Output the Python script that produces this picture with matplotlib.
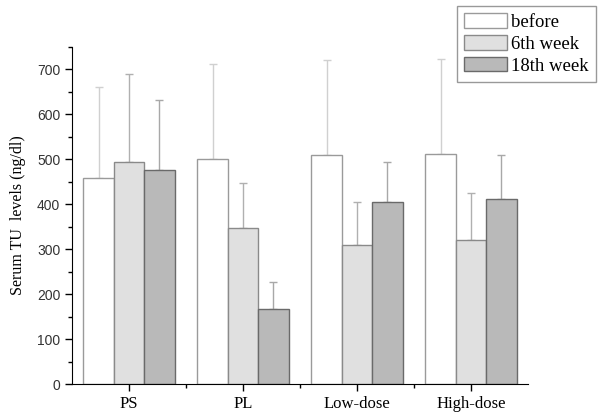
import matplotlib
matplotlib.use("Agg")
import matplotlib.pyplot as plt
import numpy as np
from matplotlib.ticker import MultipleLocator

groups = ["PS", "PL", "Low-dose", "High-dose"]
series = ["before", "6th week", "18th week"]
before = [459, 500, 510, 512]
week6 = [493, 348, 310, 321]
week18 = [476, 168, 406, 412]
before_err = [202, 213, 211, 212]
week6_err = [198, 99, 94, 103]
week18_err = [156, 59, 87, 98]

values = [before, week6, week18]
errs = [before_err, week6_err, week18_err]
faces = ["#ffffff", "#e0e0e0", "#b9b9b9"]
edges = ["#9a9a9a", "#8a8a8a", "#6a6a6a"]
ecolors = ["#d0d0d0", "#b0b0b0", "#a8a8a8"]

fig = plt.figure(figsize=(6.02, 4.15), dpi=100)
ax = fig.add_axes([72/602, 1-384/415, (528-72)/602, (384-47)/415])

x = np.arange(1, len(groups) + 1)
w = 0.267
for i, (v, e) in enumerate(zip(values, errs)):
    pos = x + (i - 1) * w
    ax.bar(pos, v, width=w, color=faces[i], edgecolor=edges[i], linewidth=1.0,
           label=series[i], zorder=2)
    ax.errorbar(pos, v, yerr=[np.zeros(len(e)), e], fmt="none",
                ecolor=ecolors[i], elinewidth=1.0, capsize=3, capthick=1.0, zorder=1)

ax.set_xlim(0.5, 4.5)
ax.set_ylim(0, 750)
ax.yaxis.set_major_locator(MultipleLocator(100))
ax.yaxis.set_minor_locator(MultipleLocator(50))
ax.set_xticks(x)
ax.set_xticks(np.arange(1.5, 4.5, 1), minor=True)
ax.set_xticklabels(groups, family="Liberation Serif", fontsize=12)
for lbl in ax.get_yticklabels():
    lbl.set_family("Liberation Sans")
    lbl.set_fontsize(10)
    lbl.set_color("#333333")
ax.tick_params(axis="both", which="major", direction="out", length=5, width=1)
ax.tick_params(axis="both", which="minor", direction="out", length=3, width=1)
ax.spines["top"].set_visible(False)
ax.spines["right"].set_visible(False)
ax.set_ylabel("Serum TU  levels (ng/dl)", family="Liberation Serif", fontsize=11.5, labelpad=8)

leg = ax.legend(loc="upper right", bbox_to_anchor=(596/602, 1-6/415), bbox_transform=fig.transFigure,
                prop={"family": "Liberation Serif", "size": 13.5}, frameon=True, fancybox=False,
                handlelength=2.3, handleheight=0.8, handletextpad=0.2, borderpad=0.4,
                labelspacing=0.22, borderaxespad=0)
leg.get_frame().set_edgecolor("#808080")
leg.get_frame().set_linewidth(1.0)

fig.savefig("out.png", dpi=100)
